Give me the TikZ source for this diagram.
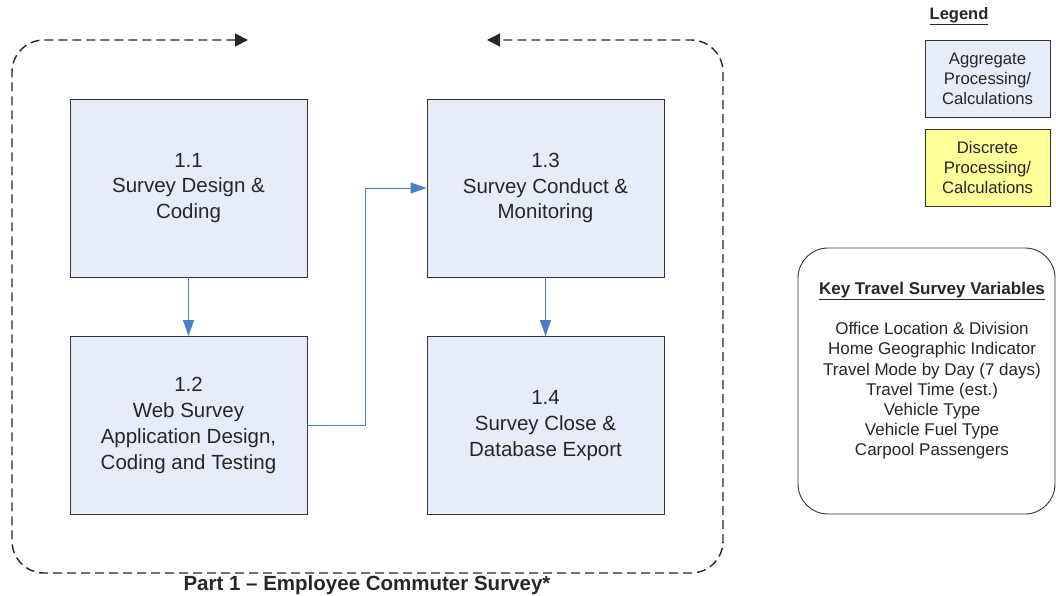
\documentclass[tikz,border=0pt]{standalone}
\usepackage{fontspec}
\setmainfont{Liberation Sans}
\usetikzlibrary{arrows.meta,positioning}
\definecolor{aggfill}{HTML}{E6EDF8}
\definecolor{discfill}{HTML}{FFFF99}
\definecolor{flowblue}{HTML}{4A7EC7}
\definecolor{txt}{HTML}{262626}
\tikzset{
  procbox/.style={draw=black!80, line width=0.9pt, fill=aggfill, minimum width=237pt, minimum height=178pt,
    align=center, inner sep=0pt, text=txt, font=\fontsize{20.5}{25.8}\selectfont},
  legbox/.style={draw=black!80, line width=0.9pt, minimum width=125pt, minimum height=77pt,
    align=center, inner sep=0pt, text=txt, font=\fontsize{16.7}{20}\selectfont},
  flow/.style={draw=flowblue, line width=1pt, -{Triangle[length=16pt,width=11pt]}},
  frame/.style={draw=black!85, line width=1.4pt, dash pattern=on 9pt off 5pt, rounded corners=32pt},
}
\begin{document}
\begin{tikzpicture}[x=1pt,y=-1pt]
\useasboundingbox (0,0) rectangle (1056,596);
% frame
\coordinate (fa) at (248,40);
\coordinate (fb) at (487,40);
\draw[frame, {Triangle[length=13pt,width=13pt]}-{Triangle[length=13pt,width=13pt]}]
  (fa) -- (12,40) -- (12,573) -- (723,573) -- (723,40) -- (fb);
% process boxes
\node[procbox] (b11) at (188.5,188) {1.1\\Survey Design \&\\Coding};
\node[procbox] (b13) at (545.5,188) {1.3\\Survey Conduct \&\\Monitoring};
\node[procbox] (b12) at (188.5,425.5) {1.2\\Web Survey\\Application Design,\\Coding and Testing};
\node[procbox] (b14) at (545.5,425.5) {1.4\\Survey Close \&\\Database Export};
% connectors
\draw[flow] (b11) -- (b12);
\draw[flow] (b13) -- (b14);
\draw[flow] (b12.east) -- (365,425.5) -- (365,188) -- (b13.west);
% caption
\node[font=\bfseries\fontsize{20.5}{22}\selectfont, text=txt] (cap) at (367,585) {Part 1 – Employee Commuter Survey*};
% legend
\node[font=\bfseries\fontsize{16.5}{18}\selectfont, text=txt] (leg) at (959,16) {\underline{Legend}};
\node[legbox, fill=aggfill] (lagg) at (987.5,78.5) {Aggregate\\Processing/\\Calculations};
\node[legbox, fill=discfill] (ldisc) at (987.5,167.5) {Discrete\\Processing/\\Calculations};
% key variables
\node[draw=black!80, line width=0.9pt, rounded corners=30pt, minimum width=257pt, minimum height=266pt] (kv) at (926.5,381) {};
\node[font=\bfseries\fontsize{17}{19}\selectfont, text=txt] (kvt) at (932,291) {\underline{Key Travel Survey Variables}};
\node[align=center, font=\fontsize{17}{20.1}\selectfont, text=txt, anchor=north] (kvl) at (932,319)
  {Office Location \& Division\\Home Geographic Indicator\\Travel Mode by Day (7 days)\\Travel Time (est.)\\Vehicle Type\\Vehicle Fuel Type\\Carpool Passengers};
\end{tikzpicture}
\end{document}
